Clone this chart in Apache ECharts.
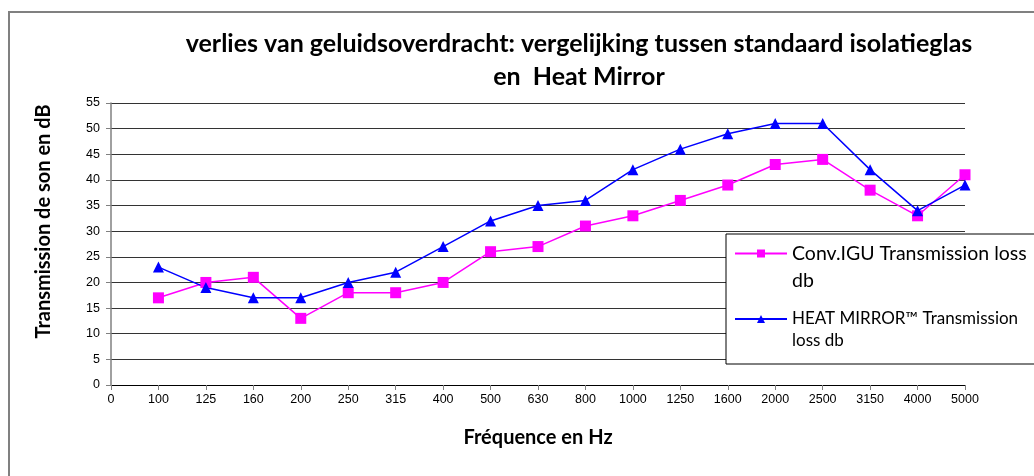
<!DOCTYPE html>
<html>
<head>
<meta charset="utf-8">
<script src="https://cdn.jsdelivr.net/npm/echarts@6/dist/echarts.min.js"></script>
<style>html,body{margin:0;padding:0;background:#fff}#c{width:1034px;height:476px}</style>
</head>
<body>
<div id="c"></div>
<script>
const categories = ['0','100','125','160','200','250','315','400','500','630','800','1000','1250','1600','2000','2500','3150','4000','5000'];
const convValues = [null,17,20,21,13,18,18,20,26,27,31,33,36,39,43,44,38,33,41];
const hmValues = [null,23,19,17,17,20,22,27,32,35,36,42,46,49,51,51,42,34,39];
const seriesNames = ['Conv.IGU Transmission loss db', 'HEAT MIRROR™ Transmission loss db'];
const yTicks = {min: 0, max: 55, interval: 5};
const titleLines = ['verlies van geluidsoverdracht: vergelijking tussen standaard isolatieglas', 'en  Heat Mirror'];
const xName = 'Fréquence en Hz';
const yName = 'Transmission de son en dB';

const chart = echarts.init(document.getElementById('c'), null, {renderer: 'canvas'});
// legend labels wrap like the original; a leading blank line keeps the first line level with the icon
const legendLabels = {};
legendLabels[seriesNames[0]] = '\nConv.IGU Transmission loss\ndb';
legendLabels[seriesNames[1]] = '\nHEAT MIRROR™ Transmission\nloss db';

chart.setOption({
  animation: false,
  backgroundColor: '#fff',
  graphic: [{
    type: 'rect', left: 8, top: 11, silent: true, z: -10,
    shape: {width: 1100, height: 500},
    style: {fill: '#fff', stroke: '#808080', lineWidth: 2}
  }],
  title: {
    text: titleLines.join('\n'),
    left: 574, textAlign: 'center', top: 22,
    textStyle: {fontFamily: 'Lato', fontWeight: 'bold', fontSize: 25, lineHeight: 33, color: '#000'}
  },
  legend: {
    orient: 'vertical', left: 726, top: 234,
    padding: [-21, 100, 12, 8],
    borderColor: '#000', borderWidth: 1, backgroundColor: '#fff',
    itemWidth: 52, itemHeight: 10, itemGap: -8,
    formatter: n => legendLabels[n],
    data: [
      {name: seriesNames[0], textStyle: {fontSize: 19.5, lineHeight: 27}},
      {name: seriesNames[1], textStyle: {fontSize: 17, lineHeight: 22}}
    ],
    textStyle: {fontFamily: 'Lato', color: '#000'}
  },
  grid: {left: 111, right: 69, top: 103, bottom: 91, containLabel: false},
  xAxis: {
    type: 'category', data: categories, boundaryGap: false,
    name: xName, nameLocation: 'middle', nameGap: 43,
    nameTextStyle: {fontFamily: 'Lato', fontWeight: 'bold', fontSize: 20, color: '#000'},
    axisLine: {lineStyle: {color: '#000', width: 1}},
    axisTick: {show: true, alignWithLabel: true, length: 5, lineStyle: {color: '#808080'}},
    axisLabel: {interval: 0, fontFamily: 'Liberation Sans', fontSize: 12.5, color: '#000', margin: 8}
  },
  yAxis: {
    type: 'value', min: yTicks.min, max: yTicks.max, interval: yTicks.interval,
    name: yName, nameLocation: 'middle', nameGap: 57, nameRotate: 90,
    nameTextStyle: {fontFamily: 'Lato', fontWeight: 'bold', fontSize: 20, color: '#000', padding: [0, 0, 0, 45]},
    axisLine: {show: true, lineStyle: {color: '#808080', width: 1.5}},
    axisTick: {show: true, length: 5, lineStyle: {color: '#808080'}},
    axisLabel: {fontFamily: 'Liberation Sans', fontSize: 12.5, color: '#000', margin: 11},
    splitLine: {show: true, lineStyle: {color: '#333', width: 1}}
  },
  series: [
    {
      name: seriesNames[0], type: 'line', data: convValues,
      symbol: 'rect', symbolSize: 11,
      itemStyle: {color: '#FF00FF'}, lineStyle: {color: '#FF00FF', width: 1.5}
    },
    {
      name: seriesNames[1], type: 'line', data: hmValues,
      symbol: 'triangle', symbolSize: 11,
      itemStyle: {color: '#0000FF'}, lineStyle: {color: '#0000FF', width: 1.5}
    }
  ]
});
</script>
</body>
</html>
